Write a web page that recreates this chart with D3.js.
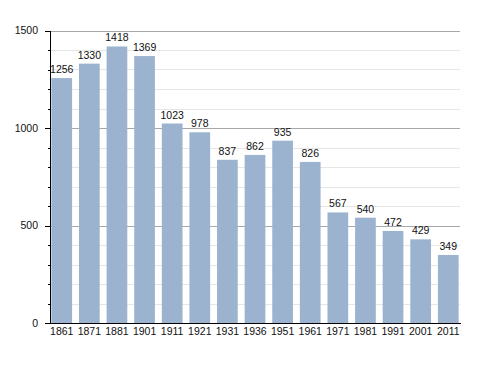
<!DOCTYPE html>
<html>
<head>
<meta charset="utf-8">
<script src="https://cdn.jsdelivr.net/npm/d3@7"></script>
<style>
  body { margin: 0; background: #fff; }
  text { font-family: "Liberation Sans", Arial, sans-serif; font-size: 10.5px; fill: #111; }
  rect.bar { fill: #9cb3cf; }
  line.grid-minor { stroke: #e6e6e6; }
  line.grid-major { stroke: #a8a8a8; }
  .axis path, .axis line { stroke: #000; shape-rendering: crispEdges; }
</style>
</head>
<body>
<script>

var years = ["1861","1871","1881","1901","1911","1921","1931","1936","1951","1961","1971","1981","1991","2001","2011"];
var population = [1256,1330,1418,1369,1023,978,837,862,935,826,567,540,472,429,349];
var yTicks = [0,500,1000,1500];

var width = 488,
    height = 373;

// plot area (note: "top" is a window property, so use other names)
var plotLeft = 50, plotRight = 460, plotTop = 30.5, plotBottom = 323;

var svg = d3.select("body").append("svg")
    .attr("width", width)
    .attr("height", height);

var x = d3.scaleBand()
    .domain(years)
    .range([plotLeft, plotRight])
    .paddingInner(0.25)
    .paddingOuter(0.05);

var y = d3.scaleLinear()
    .domain([0, 1500])
    .range([plotBottom, plotTop]);

// gridlines every 100, darker every 500
var gridVals = d3.range(100, 1501, 100);
svg.selectAll("line.grid")
  .data(gridVals).enter().append("line")
  .attr("class", function(d){ return d % 500 === 0 ? "grid-major" : "grid-minor"; })
  .attr("x1", plotLeft)
  .attr("x2", plotRight)
  .attr("y1", function(d){ return Math.round(y(d)) + 0.5; })
  .attr("y2", function(d){ return Math.round(y(d)) + 0.5; });

svg.selectAll("rect.bar")
  .data(population).enter().append("rect")
  .attr("class", "bar")
  .attr("x", function(d, i){ return x(years[i]); })
  .attr("width", x.bandwidth())
  .attr("y", function(d){ return y(d); })
  .attr("height", function(d){ return plotBottom - y(d); });

svg.selectAll("text.val")
  .data(population).enter().append("text")
  .attr("class", "val")
  .attr("x", function(d, i){ return x(years[i]) + x.bandwidth()/2; })
  .attr("y", function(d){ return y(d) - 5; })
  .attr("text-anchor", "middle")
  .text(function(d){ return d; });

// minor ticks on y axis
svg.append("g")
  .attr("class", "axis")
  .attr("transform", "translate(" + plotLeft + ",0)")
  .call(d3.axisLeft(y).tickValues(gridVals.filter(function(d){ return d % 500 !== 0; }))
        .tickSize(2).tickFormat(""))
  .call(function(g){ g.select(".domain").remove(); });

var yAxis = svg.append("g")
  .attr("class", "axis")
  .attr("transform", "translate(" + plotLeft + ",0)")
  .call(d3.axisLeft(y).tickValues(yTicks).tickFormat(d3.format("d"))
        .tickSize(5).tickSizeOuter(0).tickPadding(7));
yAxis.selectAll("text").style("font-size", "10.5px").attr("fill", "#111");

var xAxis = svg.append("g")
  .attr("class", "axis")
  .attr("transform", "translate(0," + plotBottom + ")")
  .call(d3.axisBottom(x).tickSize(0).tickSizeOuter(0).tickPadding(4.5));
xAxis.selectAll("text").style("font-size", "10.5px").attr("fill", "#111");

</script>
</body>
</html>
